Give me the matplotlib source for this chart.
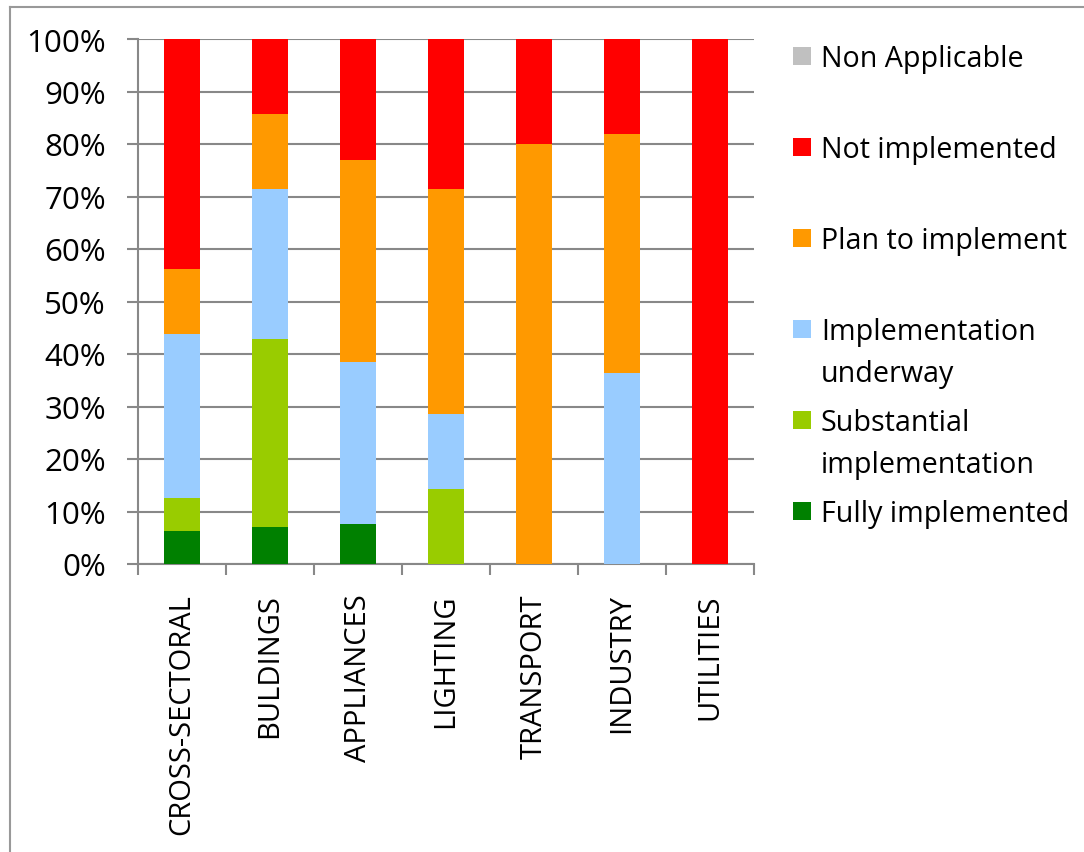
import matplotlib
matplotlib.use("Agg")
import matplotlib.pyplot as plt
from matplotlib.patches import Rectangle
from matplotlib.lines import Line2D
import numpy as np

plt.rcParams['font.family'] = ['Open Sans', 'DejaVu Sans']

categories = ["CROSS-SECTORAL", "BULDINGS", "APPLIANCES", "LIGHTING", "TRANSPORT", "INDUSTRY", "UTILITIES"]
fully_implemented = [6.25, 7.14, 7.69, 0, 0, 0, 0]
substantial_implementation = [6.25, 35.71, 0, 14.29, 0, 0, 0]
implementation_underway = [31.25, 28.57, 30.77, 14.29, 0, 36.36, 0]
plan_to_implement = [12.5, 14.29, 38.46, 42.86, 80, 45.45, 0]
not_implemented = [43.75, 14.29, 23.08, 28.57, 20, 18.18, 100]
non_applicable = [0, 0, 0, 0, 0, 0, 0]

series = [
    ("Fully implemented", fully_implemented, "#008000"),
    ("Substantial\nimplementation", substantial_implementation, "#99CC00"),
    ("Implementation\nunderway", implementation_underway, "#99CCFF"),
    ("Plan to implement", plan_to_implement, "#FF9900"),
    ("Not implemented", not_implemented, "#FF0000"),
    ("Non Applicable", non_applicable, "#C0C0C0"),
]

W, H = 1084, 853
fig = plt.figure(figsize=(W / 100, H / 100), dpi=100)
ax = fig.add_axes([138 / W, 1 - 565 / H, (754 - 138) / W, (565 - 40) / H])

x = np.arange(len(categories))
bottom = np.zeros(len(categories))
for label, vals, color in series:
    vals = np.array(vals, dtype=float)
    ax.bar(x, vals, bottom=bottom, width=0.41, color=color, zorder=3, linewidth=0)
    bottom += vals

gridc = "#888888"
ax.set_xlim(-0.5, len(categories) - 0.5)
ax.set_ylim(0, 100)
ax.set_yticks(np.arange(0, 101, 10))
ax.set_yticklabels([f"{v}%" for v in range(0, 101, 10)], fontsize=22.5)
ax.yaxis.grid(True, color=gridc, linewidth=1.5, zorder=0)
ax.set_xticks(x)
ax.set_xticklabels(categories, rotation=90, fontsize=21, va="top", ha="center")
ax.set_xticks(np.arange(-0.5, len(categories)), minor=True)
ax.tick_params(axis="x", which="major", length=0, pad=21)
ax.tick_params(axis="x", which="minor", length=8, width=1.5, color=gridc, direction="out")
ax.tick_params(axis="y", length=8, width=1.5, color=gridc, direction="out", pad=15)
for s in ["top", "right"]:
    ax.spines[s].set_visible(False)
for s in ["left", "bottom"]:
    ax.spines[s].set_color(gridc)
    ax.spines[s].set_linewidth(1.5)

# legend (manual, Excel-like spacing)
leg_entries = list(reversed(series))
y0 = 57
step = 91
for i, (label, vals, color) in enumerate(leg_entries):
    yc = y0 + i * step
    fig.add_artist(Rectangle((793 / W, 1 - (yc + 9) / H), 18 / W, 18 / H,
                             transform=fig.transFigure, color=color, linewidth=0))
    fig.text(821 / W, 1 - (yc - 12) / H, label, fontsize=20.6, va="top", ha="left",
             linespacing=1.6)

# outer border
fig.add_artist(Line2D([10 / W, 10 / W], [1 - 8 / H, -0.1], transform=fig.transFigure, color="#999999", linewidth=1.5))
fig.add_artist(Line2D([10 / W, 1.1], [1 - 8 / H, 1 - 8 / H], transform=fig.transFigure, color="#999999", linewidth=1.5))

fig.savefig("out.png", dpi=100)
